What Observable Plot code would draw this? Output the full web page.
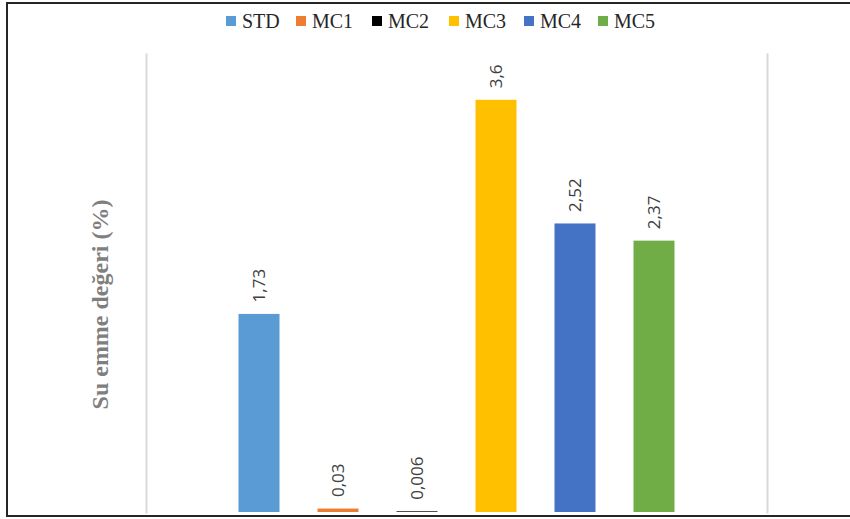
<!DOCTYPE html>
<html>
<head>
<meta charset="utf-8">
<script src="https://cdn.jsdelivr.net/npm/d3@7"></script>
<script src="https://cdn.jsdelivr.net/npm/@observablehq/plot@0.6"></script>
<style>
  html, body { margin: 0; padding: 0; background: #fff; }
  #wrap { position: relative; width: 850px; height: 519px; overflow: hidden; }
  #legend { position: relative; height: 44px; }
  .item { position: absolute; top: 9px; display: flex; align-items: center; font-family: "Liberation Serif", "Times New Roman", serif; font-size: 20px; color: #262626; line-height: 24px; }
  .sw { width: 10px; height: 10px; margin-right: 6px; }
  #border { position: absolute; left: 6px; top: 2px; width: 860px; height: 511px; border-left: 2px solid #262626; border-top: 2px solid #262626; border-bottom: 2px solid #262626; pointer-events: none; }
  svg { display: block; }
</style>
</head>
<body>
<div id="wrap">
  <div id="legend"></div>
  <div id="chart"></div>
  <div id="border"></div>
</div>
<script>
const categories = ["STD", "MC1", "MC2", "MC3", "MC4", "MC5"];
const values = [1.73, 0.03, 0.006, 3.6, 2.52, 2.37];
const valueLabels = ["1,73", "0,03", "0,006", "3,6", "2,52", "2,37"];
const colors = ["#5b9bd5", "#ed7d31", "#000000", "#ffc000", "#4472c4", "#70ad47"];
const legendLeft = [226, 296, 372, 449, 524, 598];
const yTitle = "Su emme değeri (%)";

const data = categories.map((c, i) => ({name: c, value: values[i], label: valueLabels[i]}));

// legend
const legend = document.getElementById("legend");
categories.forEach((c, i) => {
  const it = document.createElement("div");
  it.className = "item";
  it.style.left = legendLeft[i] + "px";
  const sw = document.createElement("span");
  sw.className = "sw";
  sw.style.background = colors[i];
  it.appendChild(sw);
  const t = document.createElement("span");
  t.textContent = c;
  it.appendChild(t);
  legend.appendChild(it);
});

const chart = Plot.plot({
  width: 850,
  height: 475,
  marginLeft: 146,
  marginRight: 83,
  marginTop: 10,
  marginBottom: 7,
  style: {background: "transparent", overflow: "visible"},
  x: {domain: categories, paddingInner: 0.481, paddingOuter: 1.171, round: false, axis: null},
  y: {domain: [0, 4], axis: null},
  color: {domain: categories, range: colors},
  marks: [
    Plot.frame({anchor: "left", stroke: "#d9d9d9", strokeWidth: 2}),
    Plot.frame({anchor: "right", stroke: "#d9d9d9", strokeWidth: 2}),
    Plot.barY(data, {x: "name", y: "value", fill: "name"}),
    Plot.text(data, {x: "name", y: "value", text: "label", rotate: -90, textAnchor: "start", dy: -12,
      fontSize: 17, fill: "#404040", fontFamily: "'Open Sans', 'Liberation Sans', sans-serif"}),
    Plot.text([yTitle], {frameAnchor: "left", text: d => d, rotate: -90, textAnchor: "middle", dx: -46, dy: 21,
      fontSize: 24, fontWeight: "bold", fill: "#7f7f7f", fontFamily: "'Liberation Serif', 'Times New Roman', serif"})
  ]
});
document.getElementById("chart").appendChild(chart);
</script>
</body>
</html>
